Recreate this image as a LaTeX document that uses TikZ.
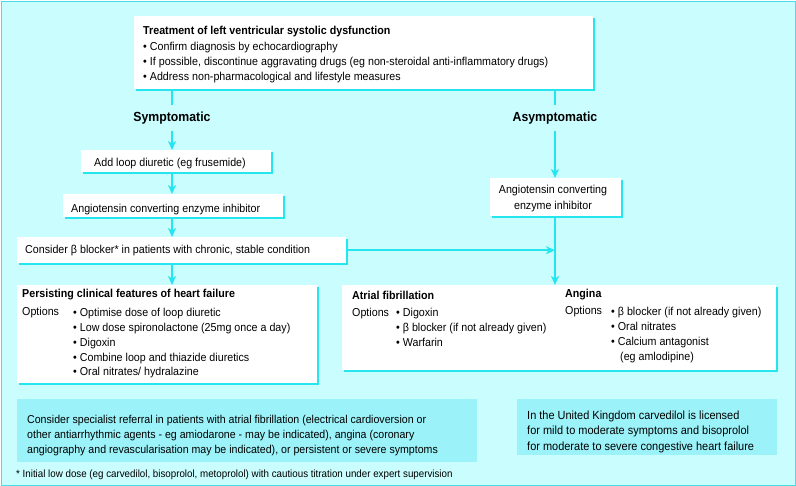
\documentclass[tikz,border=0pt]{standalone}
\usepackage{fontspec}
\setmainfont{Liberation Sans}[FakeStretch=0.93]
\usetikzlibrary{arrows.meta}
\definecolor{bgc}{HTML}{C9FDFE}
\definecolor{lc}{HTML}{25E5EF}
\definecolor{framec}{HTML}{48DDE8}
\definecolor{notec}{HTML}{9BF3F9}
\begin{document}
\begin{tikzpicture}[x=1pt,y=-1pt,
  txt/.style={inner sep=0pt, anchor=base west, font=\fontsize{11.5}{14}\selectfont},
  bld/.style={txt, font=\fontsize{11.5}{14}\selectfont\bfseries},
  ntxt/.style={inner sep=0pt, anchor=base west, font=\fontsize{11.4}{14}\selectfont},
  mtxt/.style={inner sep=0pt, anchor=base west, font=\fontsize{11.8}{14}\selectfont},
  head/.style={inner sep=0pt, anchor=center, minimum height=26pt, font=\fontsize{13.2}{15}\selectfont\bfseries},
  box/.style={fill=white, inner sep=0pt, anchor=north west, preaction={fill=lc, transform canvas={shift={(2pt,-2pt)}}}},
  note/.style={fill=notec, inner sep=0pt, anchor=north west},
  conn/.style={draw=lc, line width=1.4pt},
  arr/.style={conn, -{Stealth[length=9pt,width=8pt,inset=2.5pt]}}]
\useasboundingbox (0,0) rectangle (796,486);
\node[draw=framec, line width=1.2pt, fill=bgc, inner sep=0pt, anchor=north west, minimum width=794pt, minimum height=484pt] (frame) at (1,1) {};

% boxes
\node[box, minimum width=459pt, minimum height=73pt] (top) at (134,16) {};
\node[box, minimum width=190pt, minimum height=22pt] (addloop) at (81,150) {};
\node[box, minimum width=220pt, minimum height=23pt] (aceL) at (63,194) {};
\node[box, minimum width=329pt, minimum height=26pt] (consider) at (17,237) {};
\node[box, minimum width=131pt, minimum height=38pt] (aceR) at (490,178) {};
\node[box, minimum width=300pt, minimum height=98pt] (persist) at (17,285) {};
\node[box, minimum width=434pt, minimum height=85pt] (big) at (342,285) {};
\node[note, minimum width=460pt, minimum height=63pt] (noteL) at (17,399) {};
\node[note, minimum width=260pt, minimum height=56pt] (noteR) at (517,399) {};

% headings
\node[head] (symp) at (172,118) {Symptomatic};
\node[head] (asymp) at (555,118) {Asymptomatic};

% top box text
\node[bld] (t1) at (143,35) {Treatment of left ventricular systolic dysfunction};
\node[txt] (t2) at (143,51) {• Confirm diagnosis by echocardiography};
\node[txt] (t3) at (143,66) {• If possible, discontinue aggravating drugs (eg non-steroidal anti-inflammatory drugs)};
\node[txt] (t4) at (143,81) {• Address non-pharmacological and lifestyle measures};

% left chain text
\node[txt] (a1) at (94,167) {Add loop diuretic (eg frusemide)};
\node[txt] (a2) at (71,213) {Angiotensin converting enzyme inhibitor};
\node[txt] (a3) at (25,254) {Consider β blocker* in patients with chronic, stable condition};

% right ACE text
\node[txt, anchor=base] (r1) at (553,194) {Angiotensin converting};
\node[txt, anchor=base] (r2) at (553,210) {enzyme inhibitor};

% persisting
\node[bld] (p0) at (22,298) {Persisting clinical features of heart failure};
\node[txt] (p1) at (22,316) {Options};
\node[txt] (p2) at (73,317) {• Optimise dose of loop diuretic};
\node[txt] (p3) at (73,332) {• Low dose spironolactone (25mg once a day)};
\node[txt] (p4) at (73,347) {• Digoxin};
\node[txt] (p5) at (73,362) {• Combine loop and thiazide diuretics};
\node[txt] (p6) at (73,376) {• Oral nitrates/ hydralazine};

% atrial fibrillation
\node[bld] (f0) at (352,300) {Atrial fibrillation};
\node[txt] (f1) at (352,317) {Options};
\node[txt] (f2) at (396,317) {• Digoxin};
\node[txt] (f3) at (396,332) {• β blocker (if not already given)};
\node[txt] (f4) at (396,347) {• Warfarin};

% angina
\node[bld] (g0) at (565,298) {Angina};
\node[txt] (g1) at (565,315) {Options};
\node[txt] (g2) at (611,316) {• β blocker (if not already given)};
\node[txt] (g3) at (611,331) {• Oral nitrates};
\node[txt] (g4) at (611,346) {• Calcium antagonist};
\node[txt] (g5) at (620,361) {(eg amlodipine)};

% notes
\node[ntxt] (n1) at (27,424) {Consider specialist referral in patients with atrial fibrillation (electrical cardioversion or};
\node[ntxt] (n2) at (27,439) {other antiarrhythmic agents - eg amiodarone - may be indicated), angina (coronary};
\node[ntxt] (n3) at (27,454) {angiography and revascularisation may be indicated), or persistent or severe symptoms};
\node[mtxt] (m1) at (527,420) {In the United Kingdom carvedilol is licensed};
\node[mtxt] (m2) at (527,435) {for mild to moderate symptoms and bisoprolol};
\node[mtxt] (m3) at (527,450) {for moderate to severe congestive heart failure};
\node[inner sep=0pt, anchor=base west, font=\fontsize{10.5}{12}\selectfont] (fn) at (16,478) {* Initial low dose (eg carvedilol, bisoprolol, metoprolol) with cautious titration under expert supervision};

% connectors
\draw[conn] (top.south -| symp) -- (symp.north);
\draw[arr] (symp.south) -- (addloop.north -| symp);
\draw[arr] (addloop.south -| symp) -- (aceL.north -| symp);
\draw[arr] (aceL.south -| symp) -- (consider.north -| symp);
\draw[arr] (consider.south -| symp) -- (persist.north -| symp);
\draw[conn] (top.south -| asymp) -- (asymp.north);
\draw[arr] (asymp.south) -- (aceR.north -| asymp);
\coordinate (j) at (aceR.south -| asymp);
\coordinate (jj) at (consider.east -| asymp);
\draw[arr] (j) -- (big.north -| asymp);
\draw[arr] (consider.east) -- (jj);
\end{tikzpicture}
\end{document}
